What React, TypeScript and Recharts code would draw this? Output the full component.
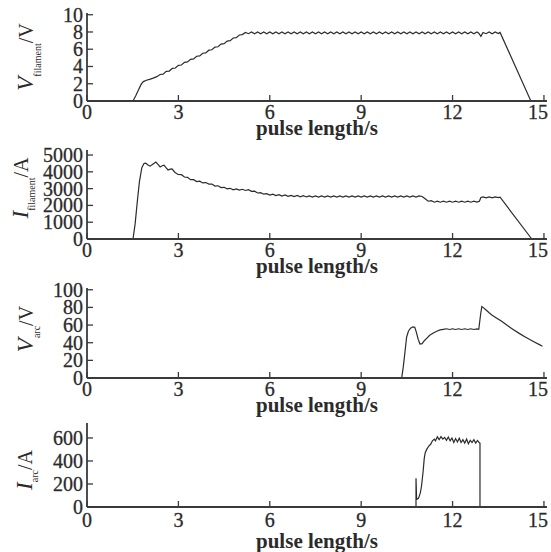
import { Line, LineChart, XAxis, YAxis } from "recharts";

// [time s, value] pairs
const V_FILAMENT = [
  [0, 0], [1.51, 0], [1.6, 0.6], [1.7, 1.35], [1.78, 1.95], [1.85, 2.25], [1.95, 2.4], [2.05, 2.5], [2.15, 2.62], [2.29, 2.82],
  [2.4, 3.07], [2.5, 3.12], [2.6, 3.43], [2.7, 3.47], [2.8, 3.78], [2.9, 3.82], [3.0, 4.13], [3.1, 4.17], [3.2, 4.48], [3.3, 4.53],
  [3.4, 4.83], [3.5, 4.88], [3.6, 5.19], [3.7, 5.23], [3.8, 5.54], [3.9, 5.58], [4.0, 5.89], [4.1, 5.94], [4.2, 6.24], [4.3, 6.29],
  [4.4, 6.59], [4.5, 6.64], [4.6, 6.95], [4.7, 6.99], [4.8, 7.3], [4.9, 7.34], [5.0, 7.65], [5.1, 7.7], [5.2, 7.95],
  [5.3, 7.8], [5.4, 8.0], [5.5, 7.8], [5.6, 8.0], [5.7, 7.8], [5.8, 8.0], [5.9, 7.8], [6.0, 8.0], [6.1, 7.8], [6.2, 8.0],
  [6.3, 7.8], [6.4, 8.0], [6.5, 7.8], [6.6, 8.0], [6.7, 7.8], [6.8, 8.0], [6.9, 7.8], [7.0, 8.0], [7.1, 7.8], [7.2, 8.0],
  [7.3, 7.8], [7.4, 8.0], [7.5, 7.8], [7.6, 8.0], [7.7, 7.8], [7.8, 8.0], [7.9, 7.8], [8.0, 8.0], [8.1, 7.8], [8.2, 8.0],
  [8.3, 7.8], [8.4, 8.0], [8.5, 7.8], [8.6, 8.0], [8.7, 7.8], [8.8, 8.0], [8.9, 7.8], [9.0, 8.0], [9.1, 7.8], [9.2, 8.0],
  [9.3, 7.8], [9.4, 8.0], [9.5, 7.8], [9.6, 8.0], [9.7, 7.8], [9.8, 8.0], [9.9, 7.8], [10.0, 8.0], [10.1, 7.8], [10.2, 8.0],
  [10.3, 7.8], [10.4, 8.0], [10.5, 7.8], [10.6, 8.0], [10.7, 7.8], [10.8, 8.0], [10.9, 7.8], [11.0, 8.0], [11.1, 7.8], [11.2, 8.0],
  [11.3, 7.8], [11.4, 8.0], [11.5, 7.8], [11.6, 8.0], [11.7, 7.8], [11.8, 8.0], [11.9, 7.8], [12.0, 8.0], [12.1, 7.8], [12.2, 8.0],
  [12.3, 7.8], [12.4, 8.0], [12.5, 7.8], [12.6, 8.0], [12.7, 7.8], [12.8, 8.0], [12.86, 7.85], [12.93, 7.5], [13.0, 7.95],
  [13.1, 7.8], [13.2, 8.0], [13.3, 7.8], [13.4, 8.0], [13.5, 7.82], [13.56, 7.95], [14.57, 0], [15, 0],
];

const I_FILAMENT = [
  [0, 0], [1.51, 0], [1.58, 900], [1.65, 2200], [1.72, 3400], [1.8, 4250], [1.87, 4500], [1.93, 4520], [2.0, 4410], [2.07, 4340],
  [2.17, 4470], [2.26, 4580], [2.33, 4440], [2.4, 4290], [2.47, 4360], [2.53, 4400], [2.6, 4240], [2.66, 4110], [2.73, 4160], [2.79, 4170],
  [2.89, 3960], [2.99, 3840], [3.1, 3830], [3.2, 3690], [3.3, 3670], [3.4, 3530], [3.5, 3530], [3.6, 3420], [3.7, 3440], [3.8, 3340],
  [3.9, 3360], [4.0, 3270], [4.1, 3270], [4.2, 3150], [4.3, 3170], [4.4, 3060], [4.5, 3080], [4.6, 2990], [4.7, 3020], [4.8, 2930],
  [4.9, 2980], [5.0, 2910], [5.1, 2960], [5.2, 2890], [5.3, 2940], [5.4, 2840], [5.5, 2850], [5.6, 2740], [5.7, 2760], [5.8, 2670],
  [5.9, 2700], [6.0, 2620], [6.1, 2670], [6.2, 2590], [6.3, 2640], [6.4, 2560], [6.5, 2620], [6.6, 2540], [6.7, 2600], [6.8, 2530],
  [6.9, 2590], [7.0, 2515], [7.1, 2575], [7.2, 2505], [7.3, 2565], [7.4, 2500], [7.5, 2565], [7.6, 2500], [7.7, 2565], [7.8, 2500],
  [7.9, 2565], [8.0, 2500], [8.1, 2565], [8.2, 2500], [8.3, 2565], [8.4, 2500], [8.5, 2565], [8.6, 2500], [8.7, 2565], [8.8, 2500],
  [8.9, 2565], [9.0, 2500], [9.1, 2565], [9.2, 2500], [9.3, 2565], [9.4, 2500], [9.5, 2565], [9.6, 2500], [9.7, 2565], [9.8, 2500],
  [9.9, 2565], [10.0, 2500], [10.1, 2565], [10.2, 2500], [10.3, 2565], [10.4, 2500], [10.5, 2565], [10.6, 2500], [10.7, 2565], [10.8, 2500],
  [10.9, 2570], [11.0, 2530], [11.1, 2400], [11.2, 2250], [11.3, 2280], [11.4, 2190], [11.5, 2250], [11.6, 2190], [11.7, 2250], [11.8, 2190],
  [11.9, 2250], [12.0, 2190], [12.1, 2250], [12.2, 2190], [12.3, 2250], [12.4, 2190], [12.5, 2250], [12.6, 2190], [12.7, 2250], [12.8, 2200],
  [12.88, 2250], [12.93, 2470], [13.0, 2510], [13.1, 2450], [13.2, 2510], [13.3, 2450], [13.4, 2510], [13.5, 2460], [13.56, 2490], [14.6, 0],
  [15, 0],
];

const V_ARC = [
  [0, 0], [10.33, 0], [10.38, 12], [10.44, 30], [10.49, 46], [10.55, 53], [10.62, 56.5], [10.7, 58], [10.76, 57.5], [10.81, 52],
  [10.87, 44], [10.93, 38.5], [11.0, 39], [11.08, 42.5], [11.15, 45], [11.25, 48.5], [11.37, 51], [11.48, 53], [11.59, 54.5], [11.7, 55.2],
  [11.8, 55.8], [11.9, 55], [12.0, 55.8], [12.1, 55], [12.2, 55.8], [12.3, 55], [12.4, 55.8], [12.5, 55], [12.6, 55.8], [12.7, 55],
  [12.8, 55.6], [12.86, 55.2], [12.92, 72], [12.96, 81], [13.02, 79.5], [13.1, 77], [13.2, 74], [13.3, 71.2], [13.45, 67.8], [13.6, 64.5],
  [13.8, 59.5], [14.0, 54.8], [14.2, 50.3], [14.4, 46.3], [14.55, 43.3], [14.7, 40.5], [14.85, 37.8], [14.95, 36],
];

const I_ARC = [
  [0, 0], [10.8, 0], [10.8, 250], [10.82, 65], [10.88, 75], [10.94, 120], [10.98, 180], [11.03, 300], [11.07, 420], [11.1, 470],
  [11.16, 505], [11.22, 530], [11.28, 545], [11.34, 575], [11.4, 590], [11.44, 575], [11.5, 610], [11.56, 585], [11.62, 612], [11.68, 590],
  [11.74, 605], [11.8, 580], [11.86, 608], [11.92, 575], [11.98, 600], [12.04, 560], [12.1, 595], [12.16, 565], [12.22, 598], [12.28, 560],
  [12.34, 585], [12.4, 555], [12.46, 590], [12.52, 550], [12.58, 580], [12.64, 560], [12.7, 585], [12.76, 555], [12.82, 578], [12.88, 558],
  [12.9, 555], [12.9, 0], [15, 0],
];

const X_TICKS = [0, 3, 6, 9, 12, 15];
const V_FIL_TICKS = [0, 2, 4, 6, 8, 10];
const I_FIL_TICKS = [0, 1000, 2000, 3000, 4000, 5000];
const V_ARC_TICKS = [0, 20, 40, 60, 80, 100];
const I_ARC_TICKS = [0, 200, 400, 600];

const FONT = '"Liberation Serif", "Times New Roman", serif';
const INK = "#2b2b2b";
const AXIS = "#3a3a3a";

interface PanelProps {
  points: number[][];
  plotTop: number;
  plotBottom: number;
  yMax: number;
  yTicks: number[];
  sym: string;
  sub: string;
  unit: string;
  labelX: number;
  labelY: number;
  subDy: number;
  tickDy: number;
  titleDy: number;
}

function Panel(p: PanelProps) {
  const top = p.plotTop - 13;
  const height = p.plotBottom - p.plotTop + 13 + 45;
  const data = p.points.map(([t, v]) => ({ t, v }));
  const ly = p.labelY - top;

  return (
    <div style={{ position: "absolute", left: 0, top }}>
      <LineChart width={551} height={height} data={data} margin={{ top: 13, right: 4, left: 0, bottom: 0 }}>
        <XAxis
          type="number"
          dataKey="t"
          domain={[0, 15.1]}
          ticks={X_TICKS}
          interval={0}
          height={45}
          tickSize={0}
          tickMargin={0}
          tickLine={false}
          axisLine={{ stroke: AXIS, strokeWidth: 1.8 }}
          tick={(t: any) => (
            <g>
              <line x1={t.x} y1={t.y} x2={t.x} y2={t.y - 6} stroke={AXIS} strokeWidth={1.3} />
              {/* the last label sits a little left of its tick, as in the scan */}
              <text
                x={t.payload.value === 15 ? t.x - 6 : t.x}
                y={t.y + p.tickDy}
                textAnchor="middle"
                fontFamily={FONT}
                fontSize={20}
                fill={INK}
                stroke={INK}
                strokeWidth={0.3}
              >
                {t.payload.value}
              </text>
            </g>
          )}
          label={{
            content: () => (
              <text x={317} y={p.plotBottom - top + p.titleDy} textAnchor="middle" fontFamily={FONT} fontSize={21} fontWeight="bold" fill={INK}>
                pulse length/s
              </text>
            ),
          }}
        />
        <YAxis
          type="number"
          domain={[0, p.yMax]}
          ticks={p.yTicks}
          interval={0}
          width={87}
          tickSize={0}
          tickMargin={0}
          tickLine={false}
          axisLine={{ stroke: AXIS, strokeWidth: 1.8 }}
          tick={(t: any) => (
            <g>
              <line x1={t.x} y1={t.y} x2={t.x + 6} y2={t.y} stroke={AXIS} strokeWidth={1.3} />
              <text x={t.x - 4} y={t.y + 7} textAnchor="end" fontFamily={FONT} fontSize={20} fill={INK} stroke={INK} strokeWidth={0.3}>
                {t.payload.value}
              </text>
            </g>
          )}
          label={{
            content: () => (
              <text
                x={p.labelX}
                y={ly}
                transform={`rotate(-90 ${p.labelX} ${ly})`}
                textAnchor="middle"
                fontFamily={FONT}
                fill={INK}
              >
                <tspan fontStyle="italic" fontSize={23}>{p.sym}</tspan>
                <tspan fontSize={10} dy={p.subDy}>{p.sub}</tspan>
                <tspan fontSize={20} dy={-p.subDy}>/{p.unit}</tspan>
              </text>
            ),
          }}
        />
        <Line dataKey="v" type="linear" stroke={INK} strokeWidth={1.2} dot={false} isAnimationActive={false} />
      </LineChart>
    </div>
  );
}

export default function App() {
  return (
    <div style={{ position: "absolute", left: 0, top: 0, width: 551, height: 552, overflow: "hidden", background: "#fff" }}>
      <Panel points={V_FILAMENT} plotTop={13} plotBottom={101} yMax={10.2} yTicks={V_FIL_TICKS}
        sym="V" sub="filament" unit="V" labelX={33} labelY={57} subDy={8} tickDy={18} titleDy={34} />
      <Panel points={I_FILAMENT} plotTop={150} plotBottom={239} yMax={5300} yTicks={I_FIL_TICKS}
        sym="I" sub="filament" unit="A" labelX={28} labelY={188} subDy={7} tickDy={18} titleDy={34} />
      <Panel points={V_ARC} plotTop={288} plotBottom={378} yMax={102} yTicks={V_ARC_TICKS}
        sym="V" sub="arc" unit="V" labelX={33} labelY={329} subDy={7} tickDy={18} titleDy={34} />
      <Panel points={I_ARC} plotTop={423} plotBottom={507} yMax={730} yTicks={I_ARC_TICKS}
        sym="I" sub="arc" unit="A" labelX={32} labelY={470} subDy={6} tickDy={20} titleDy={41} />
    </div>
  );
}
